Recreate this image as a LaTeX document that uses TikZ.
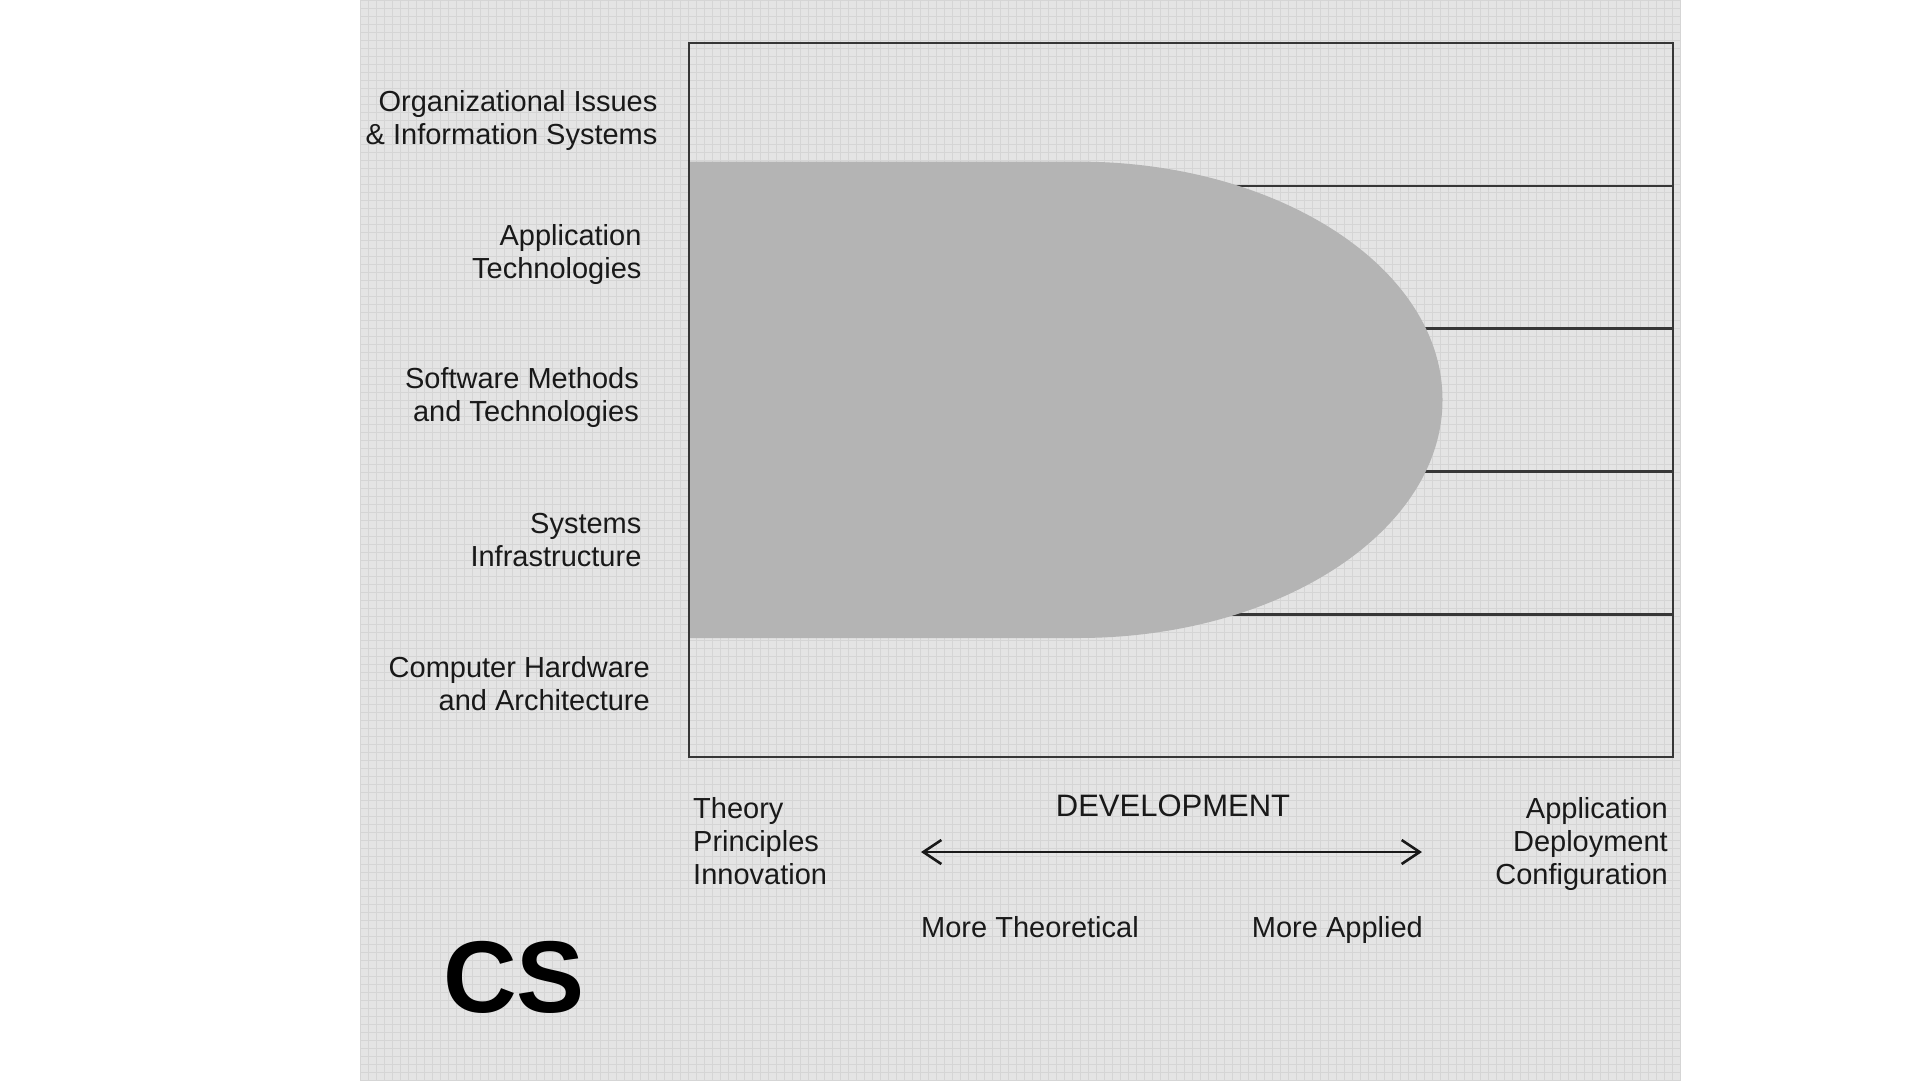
\documentclass[tikz,border=0pt]{standalone}
\usepackage{fontspec}
\setmainfont{Liberation Sans}
\usetikzlibrary{arrows.meta,positioning}
\definecolor{panelbg}{RGB}{228,228,228}
\definecolor{gridcol}{RGB}{213,213,213}
\definecolor{blobgray}{RGB}{180,180,180}
\definecolor{framecol}{RGB}{55,55,55}
\definecolor{inkcol}{RGB}{25,25,25}
\begin{document}
\begin{tikzpicture}[
  x=1pt,y=-1pt,
  >={Straight Barb[length=18pt,width=24pt]},
  lbl/.style={inner sep=0pt,text=inkcol,font=\fontsize{29}{33}\selectfont},
  lblr/.style={lbl,align=right,anchor=east},
  lbll/.style={lbl,align=left,anchor=west},
  frame/.style={draw=framecol,line width=2.6pt},
  rowline/.style={draw=framecol,line width=2.6pt},
  arr/.style={<->,draw=inkcol,line width=2.6pt}
]
\useasboundingbox (0,0) rectangle (1920,1080);
\fill[white] (0,0) rectangle (1920,1080);
% gray panel with fine grid
\fill[panelbg] (360,0) rectangle (1681,1080);
\draw[gridcol,line width=0.7pt,step=8pt] (360,0) grid (1681,1080);
% rows of the chart
\foreach \y in {185.8,328.6,471.4,614.2}
  \draw[rowline] (689,\y) -- (1673,\y);
% CS area
\fill[blobgray] (689,161.6) -- (1078,161.6)
  arc[start angle=-90,end angle=90,x radius=364.5,y radius=238.2]
  -- (689,638) -- cycle;
\draw[frame] (689,43) rectangle (1673,757);
% row labels
\node[lblr] (orgis) at (657.6,120.5) {Organizational Issues\\\& Information Systems};
\node[lblr] (apptech) at (641.6,254) {Application\\Technologies};
\node[lblr] (swmeth) at (639,397) {Software Methods\\and Technologies};
\node[lblr] (sysinf) at (641.6,540) {Systems\\Infrastructure};
\node[lblr] (hwarch) at (650,684) {Computer Hardware\\and Architecture};
% axis labels
\node[lbll] (theory) at (693,841) {Theory\\Principles\\Innovation};
\node[lblr] (applied) at (1668,843.5) {Application\\Deployment\\Configuration};
\node[lbl,font=\fontsize{31}{35}\selectfont] (devel) at (1173,806) {DEVELOPMENT};
\coordinate (devL) at (921,852);
\coordinate (devR) at (1422,852);
\draw[arr] (devL) -- (devR);
\node[lbl,anchor=base west] (morethe) at (921,937.5) {More Theoretical};
\node[lbl,anchor=base east] (moreapp) at (1423,937.5) {More Applied};
\node[inner sep=0pt,text=black,font=\fontsize{102}{102}\selectfont\bfseries] (cs) at (514,977) {CS};
\end{tikzpicture}
\end{document}
